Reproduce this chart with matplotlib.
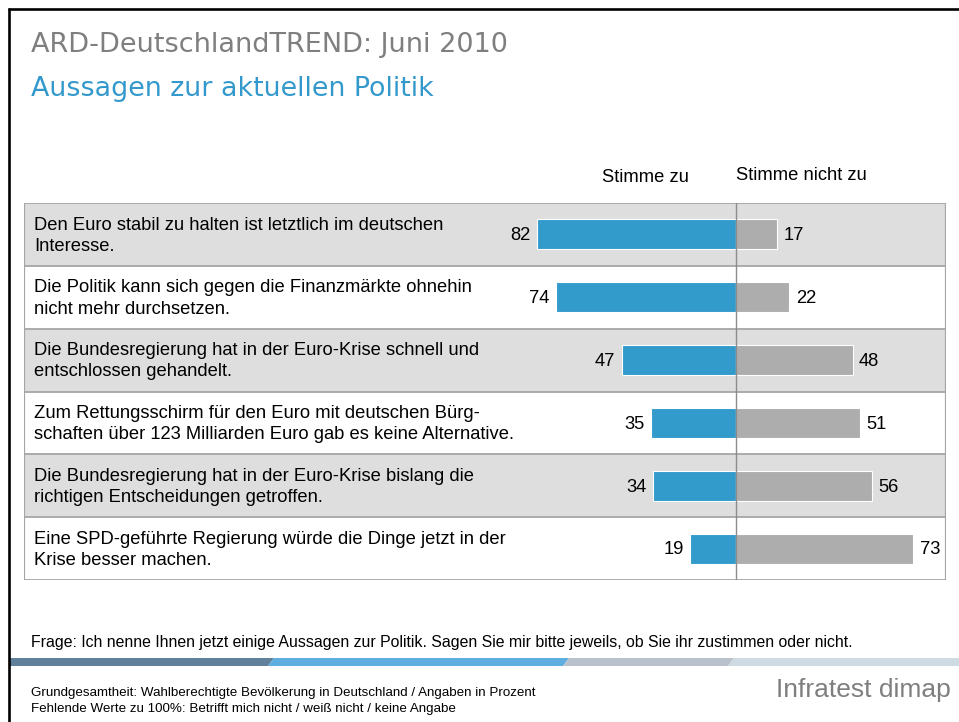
import matplotlib
matplotlib.use("Agg")
import matplotlib.pyplot as plt
from matplotlib.patches import Polygon
from matplotlib.lines import Line2D

statements = [
    "Den Euro stabil zu halten ist letztlich im deutschen\nInteresse.",
    "Die Politik kann sich gegen die Finanzmärkte ohnehin\nnicht mehr durchsetzen.",
    "Die Bundesregierung hat in der Euro-Krise schnell und\nentschlossen gehandelt.",
    "Zum Rettungsschirm für den Euro mit deutschen Bürg-\nschaften über 123 Milliarden Euro gab es keine Alternative.",
    "Die Bundesregierung hat in der Euro-Krise bislang die\nrichtigen Entscheidungen getroffen.",
    "Eine SPD-geführte Regierung würde die Dinge jetzt in der\nKrise besser machen.",
]
agree = [82, 74, 47, 35, 34, 19]
disagree = [17, 22, 48, 51, 56, 73]
col_headers = ["Stimme zu", "Stimme nicht zu"]

W, H = 959, 722
fig = plt.figure(figsize=(W / 100, H / 100), dpi=100)
fig.patch.set_facecolor("white")

bg = fig.add_axes([0, 0, 1, 1])
bg.set_xlim(0, W)
bg.set_ylim(H, 0)
bg.axis("off")

bg.add_line(Line2D([9, 9], [8, H], color="black", lw=1.9, solid_capstyle="butt"))
bg.add_line(Line2D([8, W], [9, 9], color="black", lw=1.9, solid_capstyle="butt"))

SANS = ["Liberation Sans", "DejaVu Sans"]
TITLE = ["DejaVu Sans"]
NARROW = ["Liberation Sans Narrow", "Liberation Sans", "DejaVu Sans"]
FS = 13.2

bg.text(31, 45, "ARD-DeutschlandTREND: Juni 2010", family=TITLE, fontsize=19.5,
        color="#7f7f7f", va="center", ha="left")
bg.text(31, 89, "Aussagen zur aktuellen Politik", family=TITLE, fontsize=19.4,
        color="#3399cc", va="center", ha="left")

px_per_unit = 2.43
xc = 736
x0, x1, y0, y1 = 24, 946, 203, 580
ax = fig.add_axes([x0 / W, 1 - y1 / H, (x1 - x0) / W, (y1 - y0) / H])
ax.set_xlim(-(xc - x0) / px_per_unit, (x1 - xc) / px_per_unit)
n = len(statements)
ax.set_ylim(n - 0.5, -0.5)
ax.axis("off")

for i in range(n):
    if i % 2 == 0:
        ax.axhspan(i - 0.5, i + 0.5, color="#dedede", zorder=0, lw=0)
for b in range(n + 1):
    ax.axhline(b - 0.5, color="#a6a6a6", lw=1.3, zorder=1)
ax.axvline(ax.get_xlim()[0], color="#a6a6a6", lw=1.6, zorder=1)
ax.axvline(ax.get_xlim()[1], color="#a6a6a6", lw=1.6, zorder=1)

ypos = list(range(n))
ax.barh(ypos, [-a for a in agree], height=0.48, color="#339acc",
        edgecolor="white", lw=0.8, zorder=2)
ax.barh(ypos, disagree, height=0.48, color="#adadad",
        edgecolor="white", lw=0.8, zorder=2)
ax.axvline(0, color="#8c8c8c", lw=1.0, zorder=3)

for i in range(n):
    ax.text(-agree[i] - 2.6, i + 0.02, str(agree[i]), ha="right", va="center",
            family=SANS, fontsize=FS, color="black", zorder=4)
    ax.text(disagree[i] + 2.6, i + 0.02, str(disagree[i]), ha="left", va="center",
            family=SANS, fontsize=FS, color="black", zorder=4)
    ax.text(10 / (x1 - x0), i + 0.02, statements[i], transform=ax.get_yaxis_transform(),
            ha="left", va="center", family=SANS, fontsize=FS, color="black",
            linespacing=1.33, zorder=4)

bg.text(645, 177, col_headers[0], ha="center", va="center", family=SANS,
        fontsize=FS, color="black")
bg.text(801, 176, col_headers[1], ha="center", va="center", family=SANS,
        fontsize=FS, color="black")

bg.text(31, 642, "Frage: Ich nenne Ihnen jetzt einige Aussagen zur Politik. Sagen Sie mir bitte jeweils, ob Sie ihr zustimmen oder nicht.",
        ha="left", va="center", family=NARROW, fontsize=11.4, color="black")

band_y0, band_y1 = 658, 666
segs = [(10, 271, "#60809c"), (271, 566, "#5eaee0"), (566, 731, "#b9c1ca"), (731, W, "#cfdbe3")]
sl = 3
for k, (a, b, c) in enumerate(segs):
    left_top = a if k == 0 else a + sl
    left_bot = a if k == 0 else a - sl
    right_top = b + sl if k < len(segs) - 1 else b
    right_bot = b - sl if k < len(segs) - 1 else b
    bg.add_patch(Polygon([(left_bot, band_y1), (left_top, band_y0), (right_top, band_y0), (right_bot, band_y1)],
                         closed=True, color=c, lw=0))

bg.text(31, 693, "Grundgesamtheit: Wahlberechtigte Bevölkerung in Deutschland / Angaben in Prozent",
        ha="left", va="center", family=NARROW, fontsize=9.6, color="black")
bg.text(31, 709, "Fehlende Werte zu 100%: Betrifft mich nicht / weiß nicht / keine Angabe",
        ha="left", va="center", family=NARROW, fontsize=9.6, color="black")
bg.text(951, 690, "Infratest dimap", ha="right", va="center", family=NARROW,
        fontsize=19, color="#7f7f7f")

fig.savefig("out.png", dpi=100, facecolor="white")
